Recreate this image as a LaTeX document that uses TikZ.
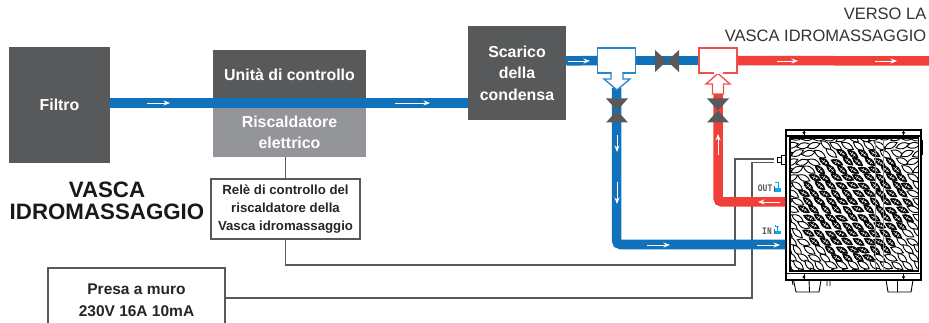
\documentclass[tikz,border=0pt]{standalone}
\usepackage{fontspec}
\setmainfont{Liberation Sans}
\newfontfamily\labelmono{Liberation Mono}
\usetikzlibrary{arrows.meta,calc}
\definecolor{darkbox}{HTML}{58595B}
\definecolor{lightbox}{HTML}{939598}
\definecolor{pipeblue}{HTML}{1072BA}
\definecolor{pipered}{HTML}{F1403A}
\definecolor{edgeblue}{HTML}{2A86C8}
\definecolor{edgered}{HTML}{F1504A}
\definecolor{wiregray}{HTML}{58595B}
\definecolor{iconcyan}{HTML}{00AEEF}
\tikzset{
  box/.style={draw=none,inner sep=0pt,align=center,text=white,font=\fontsize{15.9}{21.5}\selectfont\bfseries},
  darkfill/.style={box,fill=darkbox},
  lightfill/.style={box,fill=lightbox},
  wirebox/.style={draw=wiregray,line width=1.2pt,fill=white,inner sep=0pt,align=center,text=black!85},
  wire/.style={draw=wiregray,line width=1.2pt},
  bluepipe/.style={draw=pipeblue,line width=9.5pt,rounded corners=4pt},
  redpipe/.style={draw=pipered,line width=9.5pt,rounded corners=4pt},
  flow/.style={draw=white,line width=0.8pt,-{Stealth[length=6.5pt,width=5pt]}},
  tee/.style={fill=white,line width=1.3pt,inner sep=0pt,minimum width=38pt,minimum height=25pt},
  valve/.style={fill=darkbox,draw=none},
  leafout/.style={draw=black,line width=0.9pt,fill=white},
  leafin/.style={draw=black,line width=0.5pt,fill=black},
  smalllabel/.style={inner sep=0pt,xscale=0.8,transform shape,font=\fontsize{10}{10}\labelmono\bfseries,text=darkbox},
}
\newcommand{\hvalve}[1]{\fill[valve] ($(#1)+(-12,-11)$) -- ($(#1)+(12,11)$) -- ($(#1)+(12,-11)$) -- ($(#1)+(-12,11)$) -- cycle;}
\newcommand{\vvalve}[1]{\fill[valve] ($(#1)+(-11,-12)$) -- ($(#1)+(11,-12)$) -- ($(#1)+(-11,12)$) -- ($(#1)+(11,12)$) -- cycle;}
\begin{document}
\begin{tikzpicture}[x=1pt,y=-1pt]
\useasboundingbox (0,0) rectangle (929,323);
% boxes
\node[darkfill,minimum width=101pt,minimum height=116pt] (filtro) at (59.5,105) {Filtro};
\node[darkfill,minimum width=153pt,minimum height=50pt] (unit) at (289.5,75) {Unità di controllo};
\node[lightfill,minimum width=153pt,minimum height=49pt] (heater) at (289.5,132.5) {Riscaldatore\\elettrico};
\node[darkfill,minimum width=98pt,minimum height=94pt] (scarico) at (517,73) {Scarico\\della\\condensa};
\node[wirebox,minimum width=149pt,minimum height=60pt,font=\fontsize{13.2}{18}\selectfont\bfseries] (relay) at (285.5,209) {Relè di controllo del\\riscaldatore della\\Vasca idromassaggio};
\node[wirebox,minimum width=177pt,minimum height=60pt,anchor=center] (wall) at (136.5,298) {};
\node[inner sep=0pt,align=center,text=black!85,font=\fontsize{15.5}{22}\selectfont\bfseries] (walltext) at (136.5,300) {Presa a muro\\230V 16A 10mA};
% titles
\node[inner sep=0pt,align=center,font=\fontsize{22.3}{22}\selectfont\bfseries,text=black!90] (title) at (107,201) {VASCA\\IDROMASSAGGIO};
\node[inner sep=0pt,align=right,anchor=north east,font=\fontsize{16.5}{21.5}\selectfont,text=black!80] (verso) at (926.5,8) {VERSO LA\\VASCA IDROMASSAGGIO};
% heat pump
\node[draw=black,line width=1.3pt,fill=white,inner sep=0pt,minimum width=135pt,minimum height=150pt] (pump) at (853.5,205) {};
\begin{scope}
  \clip (790,138) rectangle (918.5,271);
  \pgfmathsetseed{11}
  \foreach \j in {0,...,17}{
    \foreach \i in {0,...,12}{
      \pgfmathsetmacro{\px}{786+11*\i+mod(\j,2)*5.5+rnd*1.5}
      \pgfmathsetmacro{\py}{137+8*\j+rnd*1.5}
      \pgfmathsetmacro{\dd}{((\px-857)/56)^2+((\py-206)/56)^2}
      \pgfmathsetmacro{\aa}{-32+22*(rnd-0.5)+(\dd>1.5?(\py<205?50:-10):0)}
      \pgfmathparse{\dd<1?1:0}
      \ifnum\pgfmathresult=1
        \begin{scope}[shift={(\px,\py)},rotate=\aa]
          \filldraw[leafin] (-6.6,0) .. controls (-2,3.8) and (2,3.8) .. (6.6,0) .. controls (2,-3.8) and (-2,-3.8) .. (-6.6,0) -- cycle;
          \draw[white,line width=0.45pt] (-3.8,0) -- (3.8,0) (-1,-1.9) -- (-1,1.9) (1.7,-1.5) -- (1.7,1.5);
        \end{scope}
      \else
        \begin{scope}[shift={(\px,\py)},rotate=\aa]
          \filldraw[leafout] (-6.8,0) .. controls (-2,3.9) and (2,3.9) .. (6.8,0) .. controls (2,-3.9) and (-2,-3.9) .. (-6.8,0) -- cycle;
        \end{scope}
      \fi
    }
  }
  \draw[black!45,line width=0.8pt] (875,138) -- (875,271) (883,138) -- (883,271);
\end{scope}
\draw[black,line width=1.2pt] (790,138) rectangle (918.5,271);
\draw[black,line width=1.2pt] (786,136) -- (921,136) (786,273.5) -- (921,273.5);
\draw[black,line width=1pt] (804,130) -- (804,137) (903.5,130) -- (903.5,137) (804,273) -- (804,280) (903.5,273) -- (903.5,280);
\fill[black] (804,132.8) circle (1.6) (903.5,132.8) circle (1.6) (804,277) circle (1.6) (903.5,277) circle (1.6);
\fill[black] (921,140) rectangle (923,155);
\draw[black,line width=0.9pt] (793.5,280) -- (796,292) -- (819,292) -- (821,280) (809,280) -- (809.5,292);
\draw[black,line width=0.9pt] (886,280) -- (888,292) -- (911,292) -- (913,280) (897.5,280) -- (897.5,292);
\draw[black,line width=0.9pt] (792,280) -- (793,285) (827,281) -- (827,286) (830,281) -- (830,286);
\draw[black,line width=1pt] (777.5,158) rectangle (781,163) (781,155.5) rectangle (786,165);
% wires
\coordinate (endA) at (774,159);
\coordinate (endB) at (774,162.5);
\draw[wire] (heater.south -| relay.north) -- (relay.north);
\draw[wire] (relay.south) -- (relay.south |- 0,265) -- (735,265) -- (735,159) -- (endA);
\draw[wire] (wall.east) -- (752,298) -- (752,162.5) -- (endB);
% pipes
\coordinate (mainL) at (filtro.east |- 0,103);
\coordinate (mainR) at (scarico.west |- 0,103);
\coordinate (upR) at (scarico.east |- 0,61);
\coordinate (farR) at (929,61);
\draw[draw=pipeblue,line width=9.5pt] (mainL) -- (mainR);
\node[tee,draw=edgeblue] (teeB) at (616.5,60.5) {};
\node[tee,draw=edgered] (teeR) at (718,60.5) {};
\draw[draw=pipeblue,line width=9.5pt] (upR) -- (teeB.west);
\draw[draw=pipeblue,line width=9.5pt] (teeB.east) -- (teeR.west);
\draw[draw=pipered,line width=9.5pt] (teeR.east) -- (farR);
\draw[bluepipe] (616.5,88) -- (616.5,244.5) -- (pump.west |- 0,244.5);
\draw[redpipe] (pump.west |- 0,202) -- (718,202) -- (718,94);
% tee arrows
\filldraw[draw=edgeblue,fill=white,line width=1.3pt,line join=miter] (611,73) -- (611,79) -- (604,79) -- (617,90) -- (630,79) -- (623,79) -- (623,73);
\fill[white] (611.7,72) rectangle (622.3,75);
\filldraw[draw=edgered,fill=white,line width=1.3pt,line join=miter] (712.5,94) -- (712.5,84) -- (706,84) -- (718,73.5) -- (730,84) -- (723.5,84) -- (723.5,94) -- cycle;
\node[tee,draw=edgered,fill=white] (teeRtop) at (718,60.5) {};
\fill[white] (713.5,72) rectangle (722.5,74);
% valves
\coordinate (v1) at (667,61);
\coordinate (v2) at (617,110.5);
\coordinate (v3) at (718,110.5);
\hvalve{v1}
\vvalve{v2}
\vvalve{v3}
% flow arrows
\draw[flow] (147,103) -- (170,103);
\draw[flow] (395,103) -- (430,103);
\draw[flow] (568,61) -- (590,61);
\draw[flow] (777,61) -- (798,61);
\draw[flow] (875,61) -- (897,61);
\draw[flow] (617,135) -- (617,152);
\draw[flow] (617,182) -- (617,204);
\draw[flow] (647,245) -- (670,245);
\draw[flow] (757,245) -- (780,245);
\draw[flow] (780,202) -- (758,202);
\draw[flow] (718,155) -- (718,134);
% in/out labels
\node[smalllabel,anchor=east] (outlbl) at (772.5,188.5) {OUT};
\node[smalllabel,anchor=east] (inlbl) at (772,231.5) {IN};
\fill[darkbox] (773.5,186) rectangle (775,192);
\fill[iconcyan] (775,188.5) rectangle (781,192);
\draw[iconcyan,line width=0.8pt] (775,182) -- (778.5,182) -- (778.5,188);
\fill[darkbox] (773.5,229) rectangle (775,234.5);
\fill[iconcyan] (775,231) rectangle (781,234.5);
\draw[iconcyan,line width=0.8pt] (775,226) -- (779,226) (775,225) -- (775,227) (777,226) -- (777,231);
\end{tikzpicture}
\end{document}
